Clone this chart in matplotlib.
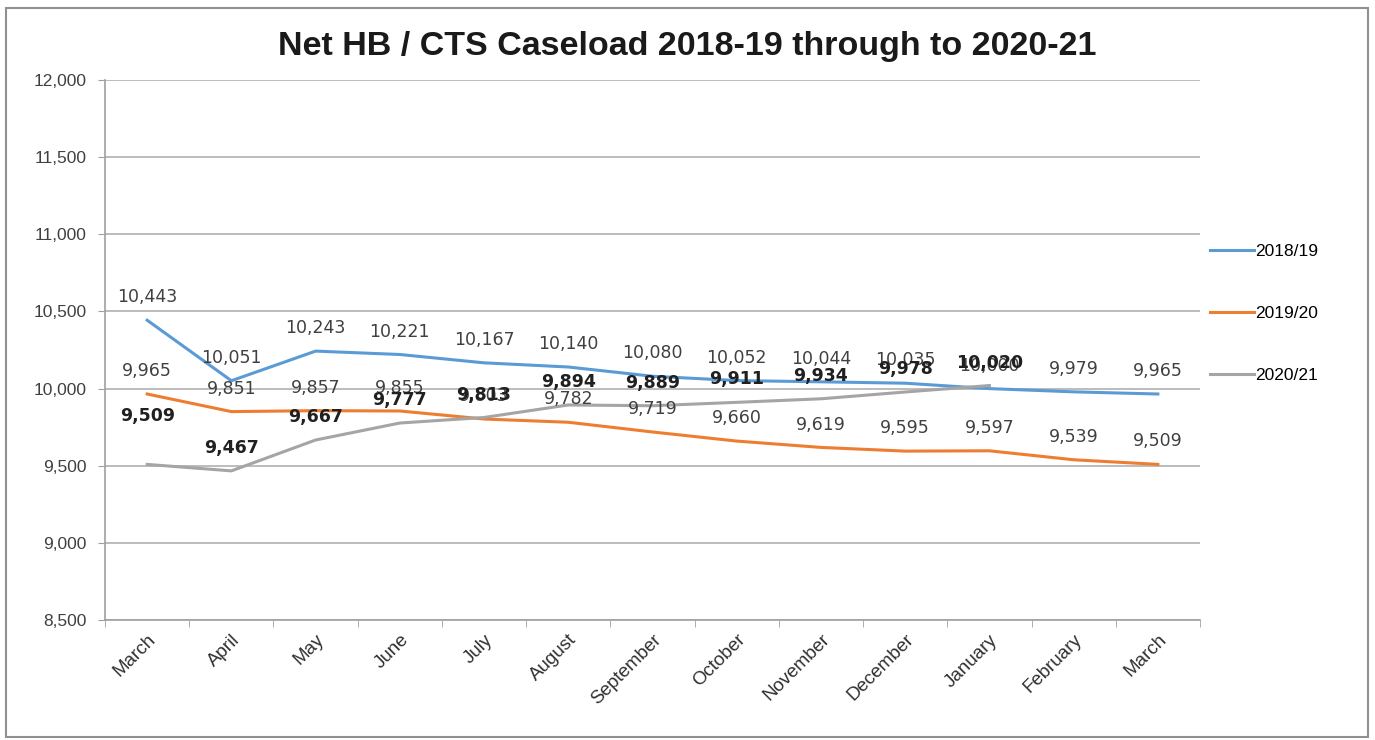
import numpy as np
import matplotlib.pyplot as plt
from matplotlib.patches import Rectangle

months = ['March', 'April', 'May', 'June', 'July', 'August', 'September',
          'October', 'November', 'December', 'January', 'February', 'March']

s2018 = [10443, 10051, 10243, 10221, 10167, 10140, 10080, 10052, 10044, 10035, 10000, 9979, 9965]
s2019 = [9965, 9851, 9857, 9855, 9803, 9782, 9719, 9660, 9619, 9595, 9597, 9539, 9509]
s2020 = [9509, 9467, 9667, 9777, 9813, 9894, 9889, 9911, 9934, 9978, 10020]

# label offsets (points) for the 2020/21 labels, Excel moved the first one up
grey_dy = [28, 10, 10, 10, 10, 10, 10, 10, 10, 10, 10]

fig = plt.figure(figsize=(13.75, 7.4), dpi=100)
ax = fig.add_axes([0.0764, 0.162, 0.7963, 0.730])

blue, orange, grey = '#5B9BD5', '#ED7D31', '#A5A5A5'
x = np.arange(len(months))

ax.plot(x, s2018, color=blue, lw=2.2, label='2018/19')
ax.plot(x, s2019, color=orange, lw=2.2, label='2019/20')
ax.plot(x[:len(s2020)], s2020, color=grey, lw=2.2, label='2020/21')

# data labels above each point, like Excel
for xi, v in zip(x, s2018):
    ax.annotate(f'{v:,}', (xi, v), xytext=(0, 10), textcoords='offset points',
                ha='center', va='bottom', fontsize=12.5, color='#404040', family='DejaVu Sans')
for xi, v in zip(x, s2019):
    ax.annotate(f'{v:,}', (xi, v), xytext=(0, 10), textcoords='offset points',
                ha='center', va='bottom', fontsize=12.5, color='#404040', family='DejaVu Sans')
for xi, v, dy in zip(x, s2020, grey_dy):
    ax.annotate(f'{v:,}', (xi, v), xytext=(0, dy), textcoords='offset points',
                ha='center', va='bottom', fontsize=12.5, color='#202020',
                fontweight='bold', family='DejaVu Sans')

ax.set_xlim(-0.5, len(months) - 0.5)
ax.set_ylim(8500, 12000)
ax.set_yticks(np.arange(8500, 12001, 500))
ax.set_yticklabels([f'{t:,}' for t in range(8500, 12001, 500)], fontsize=12.5, color='#404040',
                   family='Liberation Sans')
ax.yaxis.grid(True, color='#B0B0B0', lw=1.2)
ax.set_axisbelow(True)

ax.set_xticks(x)
ax.set_xticklabels(months, rotation=45, ha='right', rotation_mode='anchor', fontsize=13.5,
                   color='#303030', family='Liberation Sans')
ax.tick_params(axis='x', length=0, pad=8)
ax.set_xticks(np.arange(-0.5, len(months)), minor=True)
ax.tick_params(axis='x', which='minor', length=5, color='#A0A0A0')
ax.tick_params(axis='y', length=5, color='#A0A0A0', pad=8)

for s in ['top', 'right']:
    ax.spines[s].set_visible(False)
for s in ['left', 'bottom']:
    ax.spines[s].set_color('#A0A0A0')
    ax.spines[s].set_linewidth(1.2)

ax.legend(loc='center left', bbox_to_anchor=(0.995, 0.568), frameon=False,
          labelspacing=2.7, handlelength=2.5, handletextpad=0.1,
          prop={'family': 'Liberation Sans', 'size': 12.5})

fig.text(0.5, 0.937, 'Net HB / CTS Caseload 2018-19 through to 2020-21', ha='center',
         va='center', fontsize=24.5, fontweight='bold', family='Liberation Sans', color='#1a1a1a')

fig.patches.append(Rectangle((0.004, 0.004), 0.991, 0.985, transform=fig.transFigure,
                             fill=False, edgecolor='#909090', lw=1.5))

fig.savefig('out.png', dpi=100)
